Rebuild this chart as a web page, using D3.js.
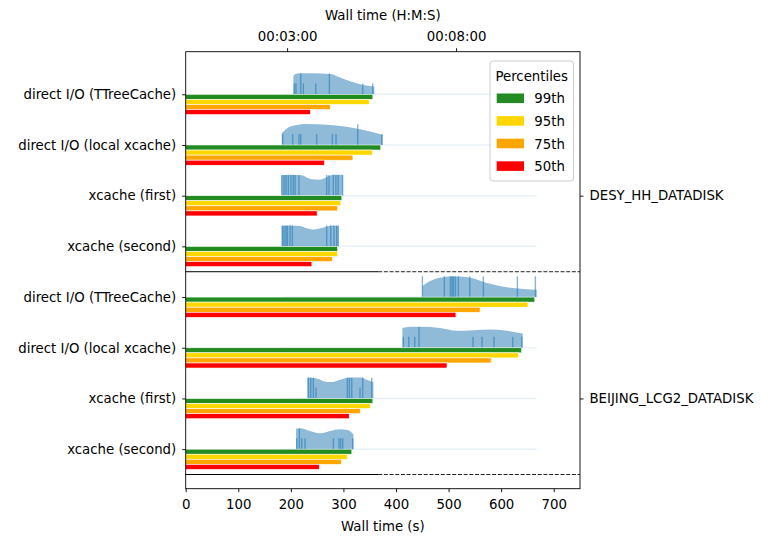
<!DOCTYPE html>
<html>
<head>
<meta charset="utf-8">
<script src="https://d3js.org/d3.v7.min.js"></script>
<style>
  body { margin: 0; background: #fff; }
  svg { display: block; font-family: "DejaVu Sans", sans-serif; }
  .axis text { font-family: "DejaVu Sans", sans-serif; font-size: 13.3px; fill: #000; }
  .axis line { stroke: #000; stroke-width: 0.9; }
</style>
</head>
<body>
<svg></svg>
<script>
var width = 773,
  height = 536;

var margin = { top: 51.7, right: 193, bottom: 47.3, left: 185.7 };

// one row per (site, access mode), top to bottom
var categories = [
  "direct I/O (TTreeCache)", "direct I/O (local xcache)", "xcache (first)", "xcache (second)",
  "direct I/O (TTreeCache)", "direct I/O (local xcache)", "xcache (first)", "xcache (second)"
];
var sites = ["DESY_HH_DATADISK", "BEIJING_LCG2_DATADISK"];
var siteRows = [2, 6];

var percentileLabels = ["99th", "95th", "75th", "50th"];
var percentileColors = ["#228b22", "#ffd700", "#ffa500", "#ff0000"];

// wall time percentiles (s)
var p99 = [356, 371, 297, 289, 664, 639, 356, 316];
var p95 = [349, 355, 295, 289, 651, 633, 351, 308];
var p75 = [275, 318, 289, 279, 560, 581, 332, 296];
var p50 = [237, 264, 250, 240, 514, 497, 311, 254];

// individual job wall times (s)
var jobTimes = [
  [206.6, 209.8, 223.8, 247.4, 336.7, 355.7],
  [184.5, 203.5, 215.5, 218.7, 249.2, 279, 286, 372.9],
  [],
  [],
  [],
  [414, 424.2, 435.7, 546.6, 563.7, 586.5, 622.1, 639.2],
  [247.9, 331.6],
  [211.2, 220.7, 227, 280.9, 291.6, 294.9, 298.7, 317.7]
];
var jobTimesLong = [
  [218.8, 273.3],
  [327.2],
  [182.6, 187, 190.8, 195.2, 200.3, 204.8, 208, 215.6, 268.2, 272.6, 280.8, 285.7, 290.1, 298.5],
  [183.9, 187.1, 190.8, 193.4, 198.5, 202.9, 268.2, 275.9, 282.1, 287.2, 290.3],
  [450.2, 492, 503.5, 506.7, 509.2, 513, 518.6, 540.3, 566.2, 630.9, 665.1],
  [443.9],
  [233.3, 237.8, 242.8, 307.5, 311.4, 315.9, 336.7, 353.8],
  [216.2]
];

// violin outline: [wall time (s), relative density]
var density = [
  [[204.8, 0.84], [208, 0.95], [217.5, 1], [242.9, 1], [274.6, 0.97], [290.4, 0.84], [306.2, 0.68], [325.3, 0.52], [337.9, 0.44], [358.8, 0.37]],
  [[182.6, 0.56], [192.1, 0.79], [211.1, 0.95], [227, 1], [274.6, 0.95], [306.2, 0.87], [337.9, 0.71], [363.3, 0.56], [374.8, 0.48]],
  [[182.6, 0.97], [198.4, 1], [220.6, 0.97], [230.1, 0.87], [239.6, 0.78], [252.3, 0.76], [261.8, 0.81], [271.3, 0.92], [280.8, 1], [298.5, 1]],
  [[182.6, 0.97], [198.4, 1], [217.8, 0.97], [230.1, 0.86], [242.8, 0.8], [255.5, 0.86], [268.2, 0.95], [280.8, 1], [290, 0.97]],
  [[450.2, 0.52], [464.8, 0.76], [483.8, 0.92], [499.7, 0.98], [521.9, 0.98], [547.2, 0.89], [578.9, 0.63], [610.6, 0.47], [642.3, 0.39], [667.7, 0.35]],
  [[412.1, 0.94], [426.7, 1], [445.7, 1], [483.8, 0.94], [515.5, 0.81], [547.2, 0.84], [578.9, 0.87], [610.6, 0.81], [641.1, 0.68]],
  [[231.4, 1], [249.2, 0.95], [268.2, 0.79], [280.9, 0.79], [293.6, 0.89], [312.6, 1], [334.8, 1], [344.3, 0.89], [357, 0.79]],
  [[209.9, 0.98], [217.5, 1], [236.5, 0.87], [255.5, 0.76], [274.6, 0.87], [293.6, 0.95], [309.4, 0.9], [319, 0.71]]
];

var violinHalf = 0.414,
  barStep = 0.1;

var svg = d3.select("svg")
  .attr("width", width)
  .attr("height", height);

var x = d3.scaleLinear().domain([0, 750]).range([margin.left, width - margin.right]);
var xTop = d3.scaleLinear().domain([0, 700]).range([margin.left, width - margin.right]);
var y = d3.scaleLinear().domain([-0.84, 7.78]).range([margin.top, height - margin.bottom]);

var rows = d3.range(categories.length);

// faint line across the whole wall time span at every row
var tMin = d3.min(density, function(d) { return d[0][0]; }),
  tMax = d3.max(density, function(d) { return d[d.length - 1][0]; });

svg.append("g")
  .selectAll("line")
  .data(rows)
  .enter().append("line")
  .attr("x1", x(tMin))
  .attr("x2", x(tMax))
  .attr("y1", function(d) { return y(d); })
  .attr("y2", function(d) { return y(d); })
  .attr("stroke", "#1f77b4")
  .attr("stroke-opacity", 0.1)
  .attr("stroke-width", 1.5);

// half violins above each row
var area = d3.area()
  .curve(d3.curveMonotoneX)
  .x(function(d) { return x(d[0]); });

svg.append("g")
  .selectAll("path")
  .data(rows)
  .enter().append("path")
  .attr("d", function(i) {
    return area
      .y0(y(i))
      .y1(function(d) { return y(i - d[1] * violinHalf); })(density[i]);
  })
  .attr("fill", "#1f77b4")
  .attr("fill-opacity", 0.5);

// rug of single jobs
var rug = [];
rows.forEach(function(i) {
  jobTimes[i].forEach(function(t) { rug.push({ row: i, t: t, len: 0.215 }); });
  jobTimesLong[i].forEach(function(t) { rug.push({ row: i, t: t, len: 0.41 }); });
});

svg.append("g")
  .selectAll("line")
  .data(rug)
  .enter().append("line")
  .attr("x1", function(d) { return x(d.t); })
  .attr("x2", function(d) { return x(d.t); })
  .attr("y1", function(d) { return y(d.row); })
  .attr("y2", function(d) { return y(d.row - d.len); })
  .attr("stroke", "#1f77b4")
  .attr("stroke-opacity", 0.55)
  .attr("stroke-width", 1.4);

// percentile bars, stacked downwards from the row line
var series = [p99, p95, p75, p50];
var bars = [];
series.forEach(function(values, k) {
  values.forEach(function(v, i) {
    bars.push({ row: i, k: k, value: v });
  });
});

svg.append("g")
  .selectAll("rect")
  .data(bars)
  .enter().append("rect")
  .attr("x", x(0))
  .attr("y", function(d) { return y(d.row + d.k * barStep); })
  .attr("width", function(d) { return x(d.value) - x(0); })
  .attr("height", y(barStep) - y(0))
  .attr("fill", function(d) { return percentileColors[d.k]; })
  .attr("stroke", "#fff")
  .attr("stroke-width", 0.6);

// site separators
var splitAt = 366;
[3.5, 7.5].forEach(function(s) {
  svg.append("line")
    .attr("x1", x(0)).attr("x2", x(splitAt))
    .attr("y1", y(s)).attr("y2", y(s))
    .attr("stroke", "#000")
    .attr("stroke-width", 1);
  svg.append("line")
    .attr("x1", x(splitAt)).attr("x2", x(750))
    .attr("y1", y(s)).attr("y2", y(s))
    .attr("stroke", "#222")
    .attr("stroke-width", 1)
    .attr("stroke-dasharray", "4,1.7");
});

// axes
function hms(s) {
  var h = Math.floor(s / 3600),
    m = Math.floor((s % 3600) / 60),
    sec = Math.round(s % 60);
  return [h, m, sec].map(function(v) { return (v < 10 ? "0" : "") + v; }).join(":");
}

function noDomain(g) {
  g.attr("font-family", null).attr("font-size", null);
  g.select(".domain").remove();
}

svg.append("g")
  .attr("class", "axis")
  .attr("transform", "translate(0," + (height - margin.bottom) + ")")
  .call(d3.axisBottom(x).tickValues(d3.range(0, 701, 100)).tickSize(3.5).tickPadding(7))
  .call(noDomain);

svg.append("g")
  .attr("class", "axis")
  .attr("transform", "translate(0," + margin.top + ")")
  .call(d3.axisTop(xTop).tickValues([180, 480]).tickFormat(hms).tickSize(3.5).tickPadding(7.7))
  .call(noDomain);

svg.append("g")
  .attr("class", "axis")
  .attr("transform", "translate(" + margin.left + ",0)")
  .call(d3.axisLeft(y).tickValues(rows).tickFormat(function(i) { return categories[i]; }).tickSize(3.5).tickPadding(6))
  .call(noDomain);

svg.append("g")
  .attr("class", "axis")
  .attr("transform", "translate(" + (width - margin.right) + ",0)")
  .call(d3.axisRight(y).tickValues(siteRows).tickFormat(function(r) { return sites[siteRows.indexOf(r)]; }).tickSize(3.5).tickPadding(6))
  .call(noDomain);

svg.append("rect")
  .attr("x", margin.left)
  .attr("y", margin.top)
  .attr("width", width - margin.left - margin.right)
  .attr("height", height - margin.top - margin.bottom)
  .attr("fill", "none")
  .attr("stroke", "#000")
  .attr("stroke-width", 0.9);

svg.append("text")
  .attr("x", (margin.left + width - margin.right) / 2)
  .attr("y", 531)
  .attr("text-anchor", "middle")
  .attr("font-size", "13.3px")
  .text("Wall time (s)");

svg.append("text")
  .attr("x", (margin.left + width - margin.right) / 2)
  .attr("y", 20)
  .attr("text-anchor", "middle")
  .attr("font-size", "13.3px")
  .text("Wall time (H:M:S)");

// legend
var legend = svg.append("g")
  .attr("transform", "translate(490,61)");

legend.append("rect")
  .attr("width", 83.5)
  .attr("height", 120)
  .attr("rx", 3)
  .attr("fill", "#fff")
  .attr("fill-opacity", 0.8)
  .attr("stroke", "#ccc")
  .attr("stroke-width", 1);

legend.append("text")
  .attr("x", 41.7)
  .attr("y", 19.5)
  .attr("text-anchor", "middle")
  .attr("font-size", "13.3px")
  .text("Percentiles");

var item = legend.selectAll("g.item")
  .data(percentileLabels)
  .enter().append("g")
  .attr("class", "item")
  .attr("transform", function(d, i) { return "translate(0," + (37.3 + i * 22.6) + ")"; });

item.append("rect")
  .attr("x", 6.7)
  .attr("y", -4.8)
  .attr("width", 27.3)
  .attr("height", 9.6)
  .attr("fill", function(d, i) { return percentileColors[i]; });

item.append("text")
  .attr("x", 44.3)
  .attr("y", 5)
  .attr("font-size", "13.3px")
  .text(function(d) { return d; });
</script>
</body>
</html>
